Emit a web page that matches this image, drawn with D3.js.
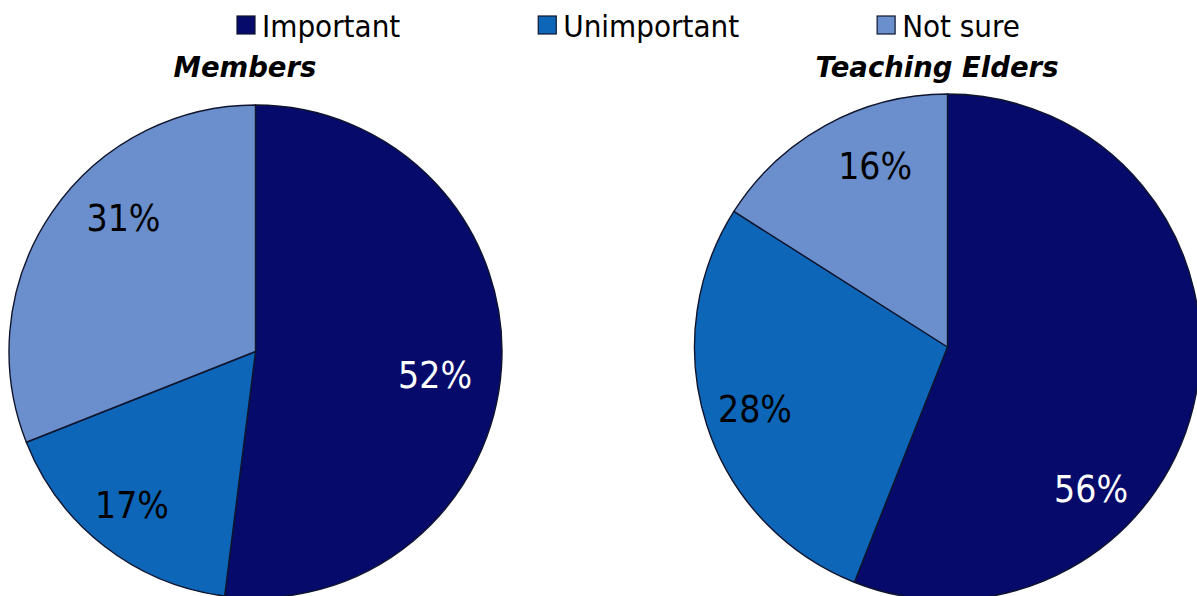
<!DOCTYPE html>
<html>
<head>
<meta charset="utf-8">
<script src="https://cdn.jsdelivr.net/npm/d3@7"></script>
<style>
  html, body { margin: 0; padding: 0; background: #fff; }
  svg { display: block; }
</style>
</head>
<body>
<svg id="chart" width="1197" height="596"></svg>
<script>
// Survey answers, share of respondents in percent
const categories = ["Important", "Unimportant", "Not sure"];
const groups = ["Members", "Teaching Elders"];
const membersValues = [52, 17, 31];
const eldersValues = [56, 28, 16];

const colors = ["#050a6b", "#0e66b8", "#6a8fcc"];
const labelColors = ["#ffffff", "#000000", "#000000"];

// Where each value label sits: angle nudge (deg) from the slice middle, and radius fraction
const labelPlacement = [
  [{ da: 4, r: 0.735 }, { da: 1, r: 0.80 }, { da: 11, r: 0.76 }],
  [{ da: 34, r: 0.80 }, { da: 0, r: 0.80 }, { da: 7, r: 0.77 }]
];

const pies = [
  { title: groups[0], values: membersValues, cx: 255.5, cy: 351.5, r: 246.5, titleX: 245 },
  { title: groups[1], values: eldersValues, cx: 947.5, cy: 347, r: 253, titleX: 937 }
];

const svg = d3.select("#chart");
const color = d3.scaleOrdinal().domain(categories).range(colors);
const labelColor = d3.scaleOrdinal().domain(categories).range(labelColors);

const pie = d3.pie().sort(null).value(d => d.value);

const labelFont = "'DejaVu Sans Condensed', 'DejaVu Sans', sans-serif";

pies.forEach((p, pi) => {
  const data = categories.map((c, i) => ({ category: c, value: p.values[i] }));
  const arcs = pie(data);
  const arc = d3.arc().innerRadius(0).outerRadius(p.r);

  const g = svg.append("g").attr("transform", `translate(${p.cx},${p.cy})`);

  g.selectAll("path.slice")
    .data(arcs)
    .join("path")
    .attr("class", "slice")
    .attr("d", arc)
    .attr("fill", d => color(d.data.category))
    .attr("stroke", "#10152e")
    .attr("stroke-width", 1.4)
    .attr("stroke-linejoin", "round");

  g.selectAll("text.value")
    .data(arcs)
    .join("text")
    .attr("class", "value")
    .each(function (d, i) {
      const pl = labelPlacement[pi][i];
      const a = (d.startAngle + d.endAngle) / 2 + pl.da * Math.PI / 180;
      const rr = p.r * pl.r;
      d3.select(this)
        .attr("x", Math.sin(a) * rr)
        .attr("y", -Math.cos(a) * rr);
    })
    .attr("text-anchor", "middle")
    .attr("dominant-baseline", "central")
    .attr("font-family", labelFont)
    .attr("font-stretch", "condensed")
    .attr("font-size", 37)
    .attr("fill", d => labelColor(d.data.category))
    .text(d => d.data.value + "%");

  svg.append("text")
    .attr("x", p.titleX)
    .attr("y", 77)
    .attr("text-anchor", "middle")
    .attr("font-family", "'DejaVu Sans', sans-serif")
    .attr("font-weight", "bold")
    .attr("font-style", "italic")
    .attr("font-size", 27.5)
    .attr("fill", "#000")
    .text(p.title);
});

// Legend across the top
const legend = svg.append("g").attr("class", "legend");
const sw = 18, swGap = 7, itemGap = 138;
let lx = 237;
categories.forEach(c => {
  const item = legend.append("g").attr("transform", `translate(${lx},0)`);
  item.append("rect")
    .attr("x", 0).attr("y", 16)
    .attr("width", sw).attr("height", sw)
    .attr("fill", color(c))
    .attr("stroke", "#10152e")
    .attr("stroke-width", 1.2);
  const t = item.append("text")
    .attr("x", sw + swGap)
    .attr("y", 37)
    .attr("font-family", labelFont)
    .attr("font-stretch", "condensed")
    .attr("font-size", 31)
    .attr("fill", "#000")
    .text(c);
  lx += sw + swGap + t.node().getComputedTextLength() + itemGap;
});
</script>
</body>
</html>
